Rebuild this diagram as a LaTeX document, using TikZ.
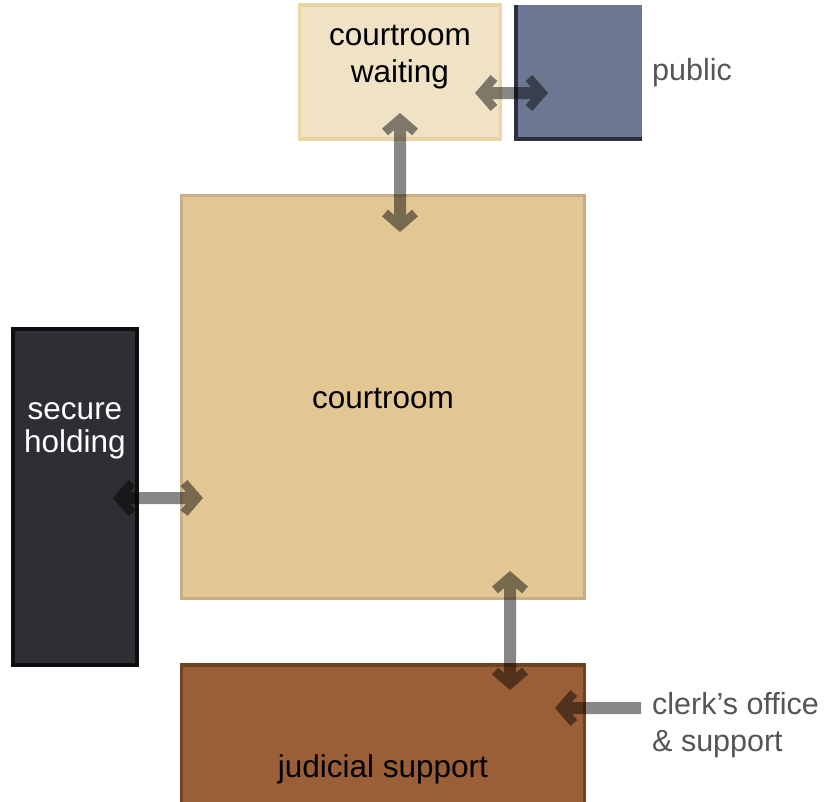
\documentclass[tikz,border=0pt]{standalone}
\usepackage{fontspec}
\setmainfont{Liberation Sans}
\usetikzlibrary{arrows.meta}
\definecolor{waitfill}{HTML}{F0E2C4}
\definecolor{waitdraw}{HTML}{E9D4A4}
\definecolor{pubfill}{HTML}{6C7792}
\definecolor{pubdraw}{HTML}{2B3040}
\definecolor{courtfill}{HTML}{E2C794}
\definecolor{courtdraw}{HTML}{C8AE86}
\definecolor{securefill}{HTML}{2F2E33}
\definecolor{securedraw}{HTML}{0E0E10}
\definecolor{judfill}{HTML}{9A5F37}
\definecolor{juddraw}{HTML}{6E4322}
\definecolor{labelgray}{HTML}{555555}
\tikzset{
  room/.style={rectangle, inner sep=0pt, outer sep=0pt, line width=3.5pt},
  roomtext/.style={inner sep=0pt, align=center, font=\fontsize{31.5}{37}\selectfont},
  sidetext/.style={inner sep=0pt, align=left, anchor=west, text=labelgray, font=\fontsize{30.5}{37}\selectfont},
  chev/.tip={Straight Barb[length=13pt, width=30pt, line width=9pt]},
  conn/.style={line width=12pt, draw=black}
}
\begin{document}
\begin{tikzpicture}[x=1pt,y=-1pt]
\useasboundingbox (0,0) rectangle (827,801);
% rooms
\node[room, fill=waitfill, draw=waitdraw, minimum width=201pt, minimum height=134pt] (wait) at (400,72) {};
\node[room, fill=pubfill, draw=none, minimum width=126pt, minimum height=134pt] (pub) at (579,72) {};
\draw[pubdraw, line width=3.5pt] (pub.north west) -- (pub.south west) -- (pub.south east);
\node[room, fill=courtfill, draw=courtdraw, minimum width=403pt, minimum height=403pt] (court) at (383,397) {};
\node[room, fill=securefill, draw=securedraw, minimum width=124pt, minimum height=336pt] (secure) at (75,497) {};
\node[room, fill=judfill, draw=juddraw, minimum width=403pt, minimum height=150pt] (jud) at (383,740) {};
% texts
\node[roomtext] (twait) at (400,57) {courtroom\\waiting};
\node[roomtext] (tcourt) at (383,398) {courtroom};
\node[roomtext, text=white, font=\fontsize{31.5}{33}\selectfont] (tsecure) at (75,431) {secure\\holding};
\node[roomtext] (tjud) at (383,769) {judicial support};
\node[sidetext] (tpub) at (652,73) {public};
\node[sidetext] (tclerk) at (652,725) {clerk’s office\\\& support};
% connector points
\coordinate (a1) at (475,93); \coordinate (b1) at (548,93);
\coordinate (a2) at (400,113); \coordinate (b2) at (400,232);
\coordinate (a3) at (113,498); \coordinate (b3) at (203,498);
\coordinate (a4) at (510,571); \coordinate (b4) at (510,690);
\coordinate (a5) at (641,708); \coordinate (b5) at (555,708);
% connectors
\begin{scope}[transparency group, opacity=0.47]
\draw[conn, chev-chev] (a1) -- (b1);
\end{scope}
\begin{scope}[transparency group, opacity=0.47]
\draw[conn, chev-chev] (a2) -- (b2);
\end{scope}
\begin{scope}[transparency group, opacity=0.47]
\draw[conn, chev-chev] (a3) -- (b3);
\end{scope}
\begin{scope}[transparency group, opacity=0.47]
\draw[conn, chev-chev] (a4) -- (b4);
\end{scope}
\begin{scope}[transparency group, opacity=0.47]
\draw[conn, -chev] (a5) -- (b5);
\end{scope}
\end{tikzpicture}
\end{document}
